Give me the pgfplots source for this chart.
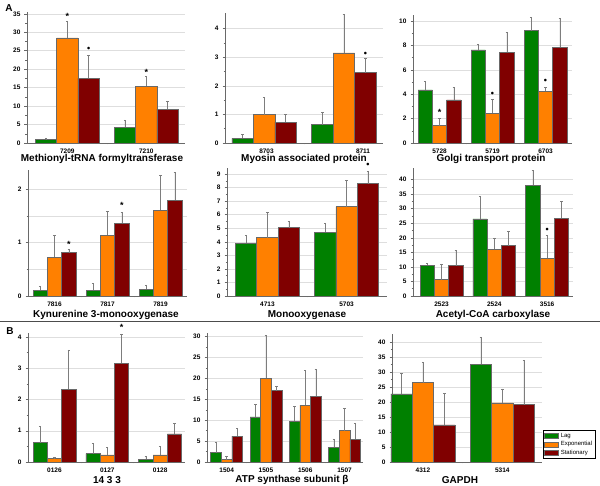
\documentclass[border=0pt]{standalone}
\usepackage{pgfplots}
\pgfplotsset{compat=1.18}
\usepackage{fontspec}
\setmainfont{Liberation Sans}
\definecolor{cLag}{RGB}{0,128,0}
\definecolor{cExp}{RGB}{255,128,0}
\definecolor{cSta}{RGB}{128,0,0}
\definecolor{cEdge}{RGB}{105,105,105}
\definecolor{cGrid}{RGB}{222,222,222}
\definecolor{cErr}{RGB}{125,125,125}
\pgfplotsset{
  panel/.style={
    scale only axis, anchor=south west, clip=false,
    ybar=0pt, bar width=0.27,
    axis x line*=bottom, axis y line*=left,
    axis line style={cEdge, line width=0.6pt},
    ymin=0, ymajorgrids, grid style={cGrid, line width=0.5pt},
    minor grid style={cGrid, line width=0.5pt},
    tick align=outside, major tick length=2.5pt, minor tick length=1.5pt,
    tick style={cEdge, line width=0.5pt},
    major x tick style={draw=none},
    minor y tick num=1,
    tick label style={font=\fontsize{6.5}{7}\selectfont\bfseries},
    /pgf/number format/assume math mode=true,
    yticklabel style={xshift=-0.5pt},
  },
  errs/.style={error bars/.cd, y dir=plus, y explicit,
    error bar style={cErr, line width=0.5pt},
    error mark options={rotate=90, cErr, mark size=1.2pt, line width=0.5pt}},
  lag/.style={fill=cLag, draw=cEdge, line width=0.5pt, bar shift=-0.27, errs},
  exq/.style={fill=cExp, draw=cEdge, line width=0.5pt, bar shift=0, errs},
  sta/.style={fill=cSta, draw=cEdge, line width=0.5pt, bar shift=0.27, errs},
}
\tikzset{mk/.style={font=\fontsize{9}{9}\selectfont\bfseries, inner sep=0pt}}
\newcommand{\ttl}[1]{\fontsize{10}{11}\selectfont\bfseries #1}
\begin{document}
\begin{tikzpicture}
\path[use as bounding box] (0pt,0pt) rectangle (600pt,486pt);
% ---------- Row 1 ----------
\begin{axis}[panel, at={(27pt,343pt)}, width=158pt, height=131pt,
  xmin=-0.51, xmax=1.49, ymax=35.5, ytick={0,5,...,35},
  xtick={0,1}, xticklabels={7209,7210}, minor xtick={0.5}]
\addplot[lag] coordinates {(0,0.9) +- (0,0.4) (1,4.3) +- (0,1.95)};
\addplot[exq] coordinates {(0,28.5) +- (0,4.4) (1,15.4) +- (0,2.6)};
\addplot[sta] coordinates {(0,17.5) +- (0,6.2) (1,9.2) +- (0,2.2)};
\node[mk] at (axis cs:0,34.2) {*};
\node[mk] at (axis cs:0.27,25.3) {•};
\node[mk] at (axis cs:1,19.2) {*};
\end{axis}
\begin{axis}[panel, at={(225pt,343pt)}, width=158pt, height=130pt,
  xmin=-0.49, xmax=1.49, ymax=4.55, ytick={0,1,...,4},
  xtick={0.03,1.24}, xticklabels={8703,8711}, minor xtick={0.5}]
\addplot[lag] coordinates {(0,0.16) +- (0,0.15) (1,0.64) +- (0,0.42)};
\addplot[exq] coordinates {(0,0.99) +- (0,0.61) (1,3.15) +- (0,1.34)};
\addplot[sta] coordinates {(0,0.73) +- (0,0.28) (1,2.46) +- (0,0.51)};
\node[mk] at (axis cs:1.27,3.1) {•};
\end{axis}
\begin{axis}[panel, at={(413pt,343pt)}, width=159pt, height=128pt,
  xmin=-0.5, xmax=2.5, ymax=10.5, ytick={0,2,...,10},
  xtick={0,1,2}, xticklabels={5728,5719,6703}, minor xtick={0.5,1.5}]
\addplot[lag] coordinates {(0,4.36) +- (0,0.68) (1,7.63) +- (0,0.49) (2,9.21) +- (0,1.09)};
\addplot[exq] coordinates {(0,1.42) +- (0,0.62) (1,2.45) +- (0,1.15) (2,4.25) +- (0,0.33)};
\addplot[sta] coordinates {(0,3.54) +- (0,1.04) (1,7.44) +- (0,1.63) (2,7.85) +- (0,2.35)};
\node[mk] at (axis cs:0,2.5) {*};
\node[mk] at (axis cs:1,3.95) {•};
\node[mk] at (axis cs:2,5.04) {•};
\end{axis}
\node at (102pt,327pt) {\ttl{Methionyl-tRNA formyltransferase}};
\node at (304pt,327pt) {\ttl{Myosin associated protein}};
\node at (491pt,327pt) {\ttl{Golgi transport protein}};
% ---------- Row 2 ----------
\begin{axis}[panel, at={(28pt,190pt)}, width=159pt, height=126pt,
  xmin=-0.5, xmax=2.5, ymax=2.36, ytick={0,1,2}, yminorgrids,
  xtick={0,1,2}, xticklabels={7816,7817,7819}, minor xtick={0.5,1.5}]
\addplot[lag] coordinates {(0,0.11) +- (0,0.08) (1,0.11) +- (0,0.13) (2,0.125) +- (0,0.085)};
\addplot[exq] coordinates {(0,0.725) +- (0,0.415) (1,1.14) +- (0,0.45) (2,1.61) +- (0,0.65)};
\addplot[sta] coordinates {(0,0.81) +- (0,0.065) (1,1.36) +- (0,0.21) (2,1.79) +- (0,0.53)};
\node[mk] at (axis cs:0.27,0.97) {*};
\node[mk] at (axis cs:1.27,1.69) {*};
\end{axis}
\begin{axis}[panel, at={(227pt,190pt)}, width=160pt, height=128pt,
  xmin=-0.51, xmax=1.51, ymax=9.45, ytick={0,1,...,9},
  xtick={0,1}, xticklabels={4713,5703}, minor xtick={0.5}]
\addplot[lag] coordinates {(0,3.9) +- (0,0.55) (1,4.7) +- (0,0.65)};
\addplot[exq] coordinates {(0,4.3) +- (0,1.85) (1,6.6) +- (0,1.95)};
\addplot[sta] coordinates {(0,5.05) +- (0,0.5) (1,8.3) +- (0,0.9)};
\node[mk] at (axis cs:1.27,9.67) {•};
\end{axis}
\begin{axis}[panel, at={(413pt,190pt)}, width=160pt, height=128pt,
  xmin=-0.54, xmax=2.49, ymax=44, ytick={0,5,...,40},
  xtick={0,1,2}, xticklabels={2523,2524,3516}, minor xtick={0.5,1.5}]
\addplot[lag] coordinates {(0,10.6) +- (0,0.7) (1,26.5) +- (0,7.7) (2,38.1) +- (0,5.2)};
\addplot[exq] coordinates {(0,5.6) +- (0,5.4) (1,16.0) +- (0,4.0) (2,12.9) +- (0,8.0)};
\addplot[sta] coordinates {(0,10.4) +- (0,5.4) (1,17.3) +- (0,5.0) (2,26.7) +- (0,5.8)};
\node[mk] at (axis cs:2,22.6) {•};
\end{axis}
\node at (106pt,171pt) {\ttl{Kynurenine 3-monooxygenase}};
\node at (307pt,171pt) {\ttl{Monooxygenase}};
\node at (493pt,171pt) {\ttl{Acetyl-CoA carboxylase}};
% ---------- Row 3 ----------
\begin{axis}[panel, at={(28pt,24pt)}, width=157pt, height=129pt,
  xmin=-0.5, xmax=2.47, ymax=4.13, ytick={0,1,...,4},
  xtick={0,1,2}, xticklabels={0126,0127,0128}, minor xtick={0.5,1.5}]
\addplot[lag] coordinates {(0,0.62) +- (0,0.52) (1,0.27) +- (0,0.32) (2,0.085) +- (0,0.095)};
\addplot[exq] coordinates {(0,0.11) +- (0,0.05) (1,0.23) +- (0,0.25) (2,0.23) +- (0,0.28)};
\addplot[sta] coordinates {(0,2.33) +- (0,1.26) (1,3.16) +- (0,0.94) (2,0.9) +- (0,0.34)};
\node[mk] at (axis cs:1.27,4.3) {*};
\end{axis}
\begin{axis}[panel, at={(207pt,24pt)}, width=156pt, height=129pt,
  xmin=-0.5, xmax=3.47, ymax=30.9, ytick={0,5,...,30},
  xtick={0,1,2,3}, xticklabels={1504,1505,1506,1507}, minor xtick={0.5,1.5,2.5}]
\addplot[lag] coordinates {(0,2.25) +- (0,2.55) (1,10.8) +- (0,3.0) (2,9.7) +- (0,3.7) (3,3.5) +- (0,2.05)};
\addplot[exq] coordinates {(0,0.56) +- (0,0.74) (1,20.1) +- (0,10.2) (2,13.6) +- (0,8.3) (3,7.5) +- (0,5.4)};
\addplot[sta] coordinates {(0,6.2) +- (0,1.8) (1,17.1) +- (0,1.1) (2,15.8) +- (0,6.5) (3,5.5) +- (0,3.75)};
\end{axis}
\begin{axis}[panel, at={(392pt,24pt)}, width=150pt, height=128pt,
  xmin=-0.39, xmax=1.5, ymax=42.7, ytick={0,5,...,40},
  xtick={0,1}, xticklabels={4312,5314}, minor xtick={0.5},
  legend style={at={(1.007,0.25)}, anchor=north west,
    font=\fontsize{6}{6.5}\selectfont, draw=black, line width=0.5pt,
    inner sep=1pt, row sep=-1.5pt, cells={anchor=west}},
  legend image code/.code={\draw[#1, draw=cEdge] (0pt,-2.5pt) rectangle (14pt,2.5pt);}]
\addplot[lag] coordinates {(0,22.7) +- (0,6.9) (1,32.6) +- (0,9.1)};
\addplot[exq] coordinates {(0,26.5) +- (0,6.9) (1,19.7) +- (0,4.7)};
\addplot[sta] coordinates {(0,12.4) +- (0,10.5) (1,19.1) +- (0,14.8)};
\legend{Lag,Exponential,Stationary}
\end{axis}
\node at (107pt,6pt) {\ttl{14 3 3}};
\node at (292pt,6pt) {\ttl{ATP synthase subunit β}};
\node at (460pt,6pt) {\ttl{GAPDH}};
% ---------- decorations ----------
\draw[line width=0.8pt, black!70] (0pt,165pt) -- (600pt,165pt);
\node at (9pt,478pt) {\fontsize{10}{11}\selectfont\bfseries A};
\node at (10pt,155pt) {\fontsize{10}{11}\selectfont\bfseries B};
\end{tikzpicture}
\end{document}
